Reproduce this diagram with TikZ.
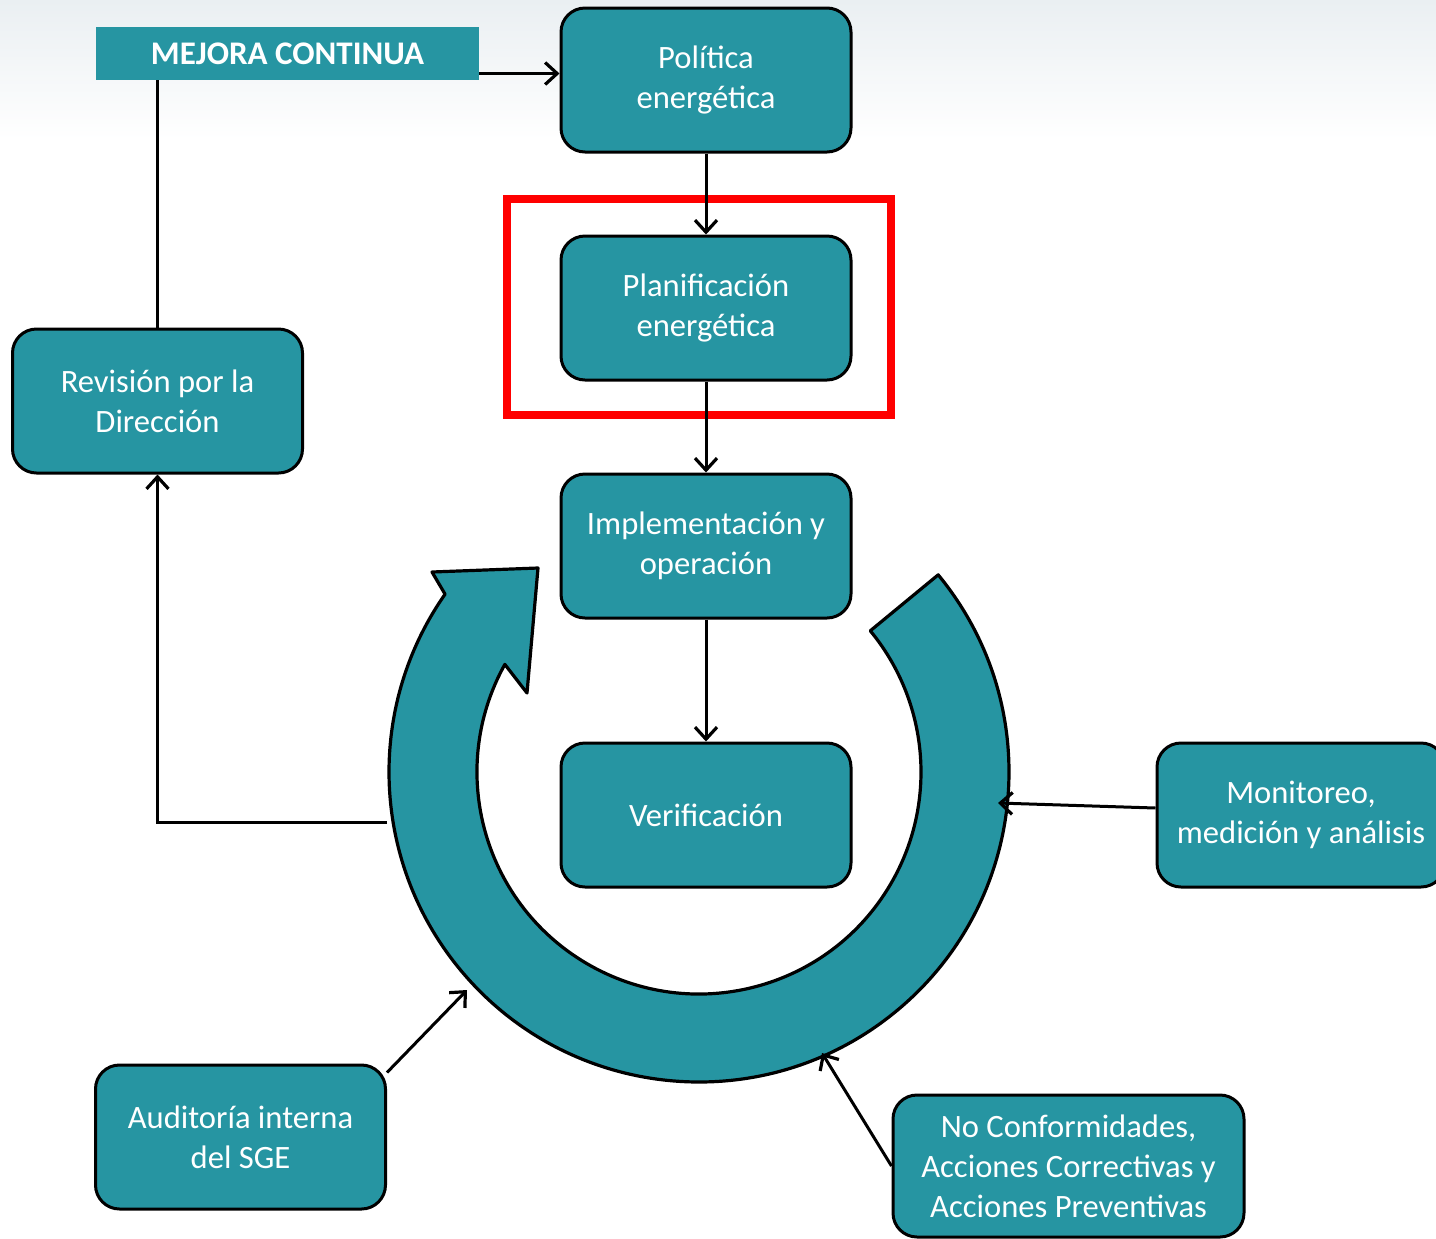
\documentclass[tikz,border=0pt]{standalone}
\usepackage{fontspec}
\setmainfont{Carlito}
\usetikzlibrary{arrows.meta,calc}
\definecolor{sgeteal}{RGB}{38,149,162}
\definecolor{topgray}{RGB}{234,239,242}
\tikzset{
  stage/.style={draw=black, line width=1.5pt, fill=sgeteal, rounded corners=12pt,
    minimum width=145pt, minimum height=72pt, inner sep=0pt, align=center,
    text=white, font=\fontsize{16.3}{20}\selectfont},
  flow/.style={line width=1.5pt, -{Straight Barb[length=6pt,width=11pt,line width=1.6pt]}},
}
\begin{document}
\begin{tikzpicture}[x=0.5pt,y=-0.5pt]
  \useasboundingbox (0,0) rectangle (1436,1238);
  \clip (0,0) rectangle (1436,1238);
  \shade[top color=topgray, bottom color=white] (0,0) rectangle (1436,140); % fondo

  % ciclo
  \coordinate (ring) at (699,772);
  \filldraw[fill=sgeteal, draw=black, line width=1.6pt, line join=round]
    ([shift={(-39.5:310)}]ring) arc[start angle=-39.5, end angle=215, radius=310]
    -- (432,572) -- (538,568) -- (527,693)
    -- ([shift={(209:222)}]ring) arc[start angle=209, end angle=-39.5, radius=222] -- cycle;
  \coordinate (ringL) at (387,822);
  \coordinate (ringR) at (998,803);
  \coordinate (ringSW) at (467,990);
  \coordinate (ringSE) at (822,1053);

  \node[fill=sgeteal, minimum width=191.5pt, minimum height=26.5pt, inner sep=0pt,
    text=white, font=\fontsize{16.5}{18}\selectfont\bfseries] (mejora) at (287.5,53.5) {MEJORA CONTINUA};
  \node[stage] (pol) at (706,80) {Política\\energética};
  \node[stage] (plan) at (706,308) {Planificación\\energética};
  \node[stage] (impl) at (706,546) {Implementación y\\operación};
  \node[stage] (ver) at (706,815) {Verificación};
  \node[stage] (rev) at (157.5,401) {Revisión por la\\Dirección};
  \node[stage, minimum width=144pt] (mon) at (1301,815) {Monitoreo,\\medición y análisis};
  \node[stage] (aud) at (240.5,1137) {Auditoría interna\\del SGE};
  \node[stage, minimum width=175.5pt, minimum height=71pt] (nc) at (1068.5,1166)
    {No Conformidades,\\Acciones Correctivas y\\Acciones Preventivas};

  \draw[red, line width=4pt] (507,199) rectangle (891,415); % marco

  \draw[flow] ([yshift=-10pt]mejora.east) -- ([yshift=-10pt]mejora.east -| pol.west);
  \draw[flow] (pol) -- (plan);
  \draw[flow] (plan) -- (impl);
  \draw[flow] (impl) -- (ver);
  \draw[line width=1.5pt] (rev.north |- mejora.south) -- (rev.north);
  \draw[flow] (ringL) -| (rev.south);
  \draw[flow] ([yshift=3.5pt]mon.west) -- (ringR);
  \draw[flow] ([yshift=-4.5pt]aud.north east) -- (ringSW);
  \draw[flow] (nc.west) -- (ringSE);
\end{tikzpicture}
\end{document}
